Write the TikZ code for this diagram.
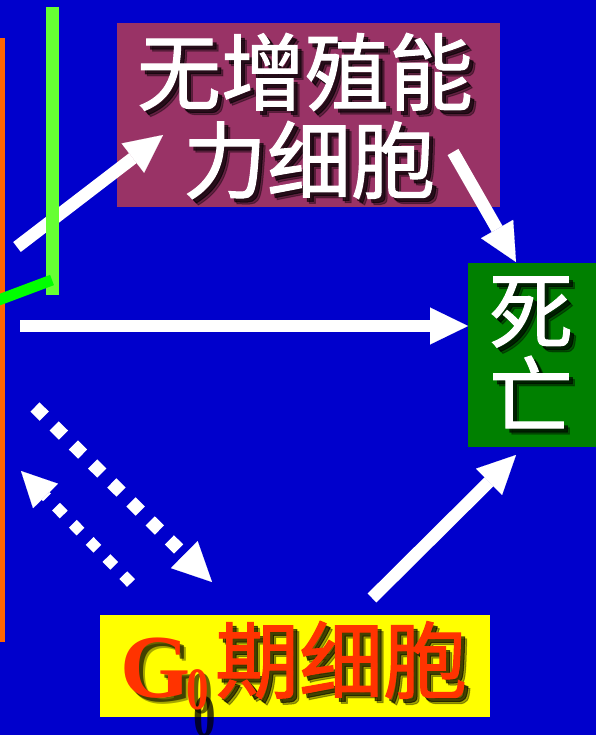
\documentclass[tikz,border=0pt]{standalone}
\usepackage{fontspec}
\newfontfamily\cjk[FakeBold=1.2]{Noto Sans CJK SC}
\newfontfamily\serifg{Liberation Serif}
\usetikzlibrary{arrows.meta}
\definecolor{bgblue}{HTML}{0000CC}
\definecolor{maroonbox}{HTML}{993366}
\definecolor{deathgreen}{HTML}{008000}
\definecolor{gzeroyellow}{HTML}{FFFF00}
\definecolor{orangeline}{HTML}{FF6600}
\definecolor{limebar}{HTML}{66FF33}
\definecolor{brightgreen}{HTML}{00FF00}
\definecolor{redtext}{HTML}{FF3300}
\begin{document}
\begin{tikzpicture}[x=1pt,y=-1pt,
  bigarrow/.style={white, line width=12.5pt, line cap=butt,
    -{Triangle[length=38pt,width=37pt,line width=0.1pt]}},
  dotarrowA/.style={white, line width=13pt, line cap=butt, dash pattern=on 13pt off 14pt,
    -{Triangle[length=39pt,width=38pt,line width=0.1pt]}},
  dotarrowB/.style={white, line width=11pt, line cap=butt, dash pattern=on 11pt off 13pt,
    -{Triangle[length=35pt,width=35pt,line width=0.1pt]}},
  boxnode/.style={anchor=north west, inner sep=0pt, outer sep=0pt},
  cjktext/.style={inner sep=0pt, font=\cjk\fontsize{84}{84}\selectfont},
  shadowtext/.style={cjktext, black, opacity=0.6},
  softshadow/.style={cjktext, black, opacity=0.35},
  gfont/.style={anchor=base west, inner sep=0pt, font=\serifg\bfseries\fontsize{90}{90}\selectfont},
  subfont/.style={anchor=base west, inner sep=0pt, font=\serifg\bfseries\fontsize{60}{60}\selectfont},
]
\fill[bgblue] (0,0) rectangle (596,735);
\useasboundingbox (0,0) rectangle (596,735);

% boxes
\node[boxnode, fill=maroonbox, minimum width=383pt, minimum height=184pt] (nocell) at (117,23) {};
\node[boxnode, fill=deathgreen, minimum width=128pt, minimum height=184pt] (death) at (468,263) {};
\node[boxnode, fill=gzeroyellow, minimum width=390pt, minimum height=102pt] (gzero) at (100,615) {};

% left lines
\coordinate (orT) at (2.5,38);
\coordinate (orB) at (2.5,642);
\draw[orangeline, line width=5pt] (orT) -- (orB);

% arrows
\coordinate (a1s) at (17,247);
\coordinate (a1e) at (163,135);
\coordinate (a2s) at (453,152);
\coordinate (a2e) at (516,262);
\coordinate (a3s) at (20,326);
\coordinate (a3e) at (468,326);
\coordinate (a4s) at (372,598);
\coordinate (a4e) at (516,455);
\coordinate (d1s) at (35,407);
\coordinate (d1e) at (212,582);
\coordinate (d2s) at (131,583);
\coordinate (d2e) at (21,471);
\draw[bigarrow] (a1s) -- (a1e);
\draw[bigarrow] (a2s) -- (a2e);
\draw[bigarrow] (a3s) -- (a3e);
\draw[bigarrow] (a4s) -- (a4e);
\draw[dotarrowA] (d1s) -- (d1e);
\draw[dotarrowB] (d2s) -- (d2e);

\coordinate (lbT) at (52,7);
\coordinate (lbB) at (52,295);
\draw[limebar, line width=13pt] (lbT) -- (lbB);
\coordinate (gsA) at (-4,301);
\coordinate (gsB) at (52,280);
\draw[brightgreen, line width=11pt] (gsA) -- (gsB);

% texts with soft shadows
\node[softshadow] (l1ss) at (311,78) {无增殖能};
\node[shadowtext] (l1s) at (309,76) {无增殖能};
\node[cjktext, white] (l1) at (305,72) {无增殖能};
\node[softshadow] (l2ss) at (315,166) {力细胞};
\node[shadowtext] (l2s) at (313,164) {力细胞};
\node[cjktext, white] (l2) at (309,160) {力细胞};

\node[softshadow] (d1ss) at (537,318) {死};
\node[shadowtext] (d1sh) at (535,316) {死};
\node[cjktext, white] (d1t) at (531,312) {死};
\node[softshadow] (d2ss) at (537,398) {亡};
\node[shadowtext] (d2sh) at (535,396) {亡};
\node[cjktext, white] (d2t) at (531,392) {亡};

\node[gfont, black, opacity=0.35] (Gss) at (126,703) {G};
\node[gfont, black, opacity=0.6] (Gsh) at (124,701) {G};
\node[subfont, black, opacity=0.6] (subsh) at (190,713) {\scalebox{0.75}[1]{0}};
\node[subfont, black, opacity=0.75] (subsh2) at (193,736) {\scalebox{0.75}[1]{0}};
\node[softshadow] (g0ss) at (347,666) {期细胞};
\node[shadowtext] (g0s) at (345,664) {期细胞};
\node[gfont, redtext] (G) at (120,697) {G};
\node[subfont, redtext] (sub) at (186,709) {\scalebox{0.75}[1]{0}};
\node[cjktext, redtext] (g0t) at (341,660) {期细胞};
\end{tikzpicture}
\end{document}
